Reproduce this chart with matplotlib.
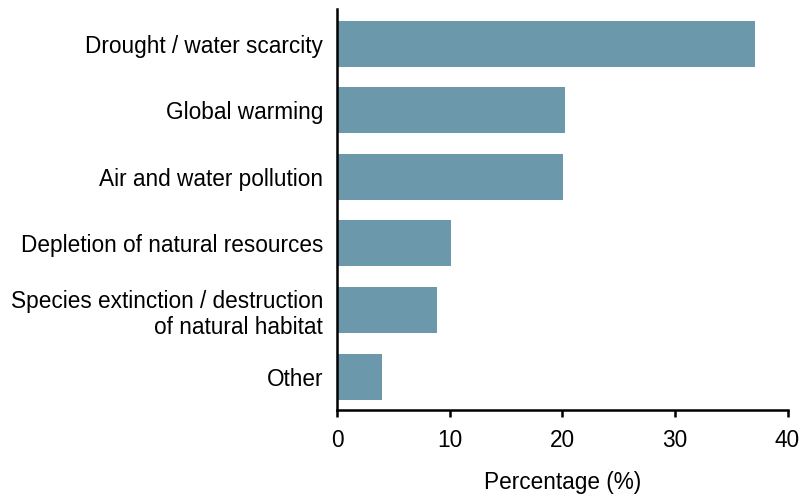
import matplotlib.pyplot as plt

plt.rcParams['font.family'] = ['Liberation Sans', 'DejaVu Sans']

# данные
categories = ['Drought / water scarcity', 'Global warming', 'Air and water pollution',
              'Depletion of natural resources',
              'Species extinction / destruction\nof natural habitat', 'Other']
values = [37.1, 20.2, 20.1, 10.1, 8.9, 4.0]
xticks = [0, 10, 20, 30, 40]

fig = plt.figure(figsize=(8.01, 4.97), dpi=100)
ax = fig.add_axes([0.4207, 0.175, 0.5625, 0.807])

pos = list(range(len(categories)))[::-1]
ax.barh(pos, values, height=0.69, color='#6b98ab')

ax.set_xlim(0, 40)
ax.set_ylim(-0.5, 5.52)
ax.set_xticks(xticks)
ax.set_yticks(pos)
ax.set_yticklabels(categories, ha='right', multialignment='right', linespacing=1.2)

for s in ['top', 'right']:
    ax.spines[s].set_visible(False)
for s in ['left', 'bottom']:
    ax.spines[s].set_linewidth(1.8)
    ax.spines[s].set_color('black')

fs = 16.3
ax.tick_params(axis='y', length=0, pad=10, labelsize=fs)
ax.tick_params(axis='x', length=5, width=1.8, pad=9, labelsize=fs)
ax.set_xlabel('Percentage (%)', fontsize=fs, labelpad=13)

fig.savefig('out.png', dpi=100)
